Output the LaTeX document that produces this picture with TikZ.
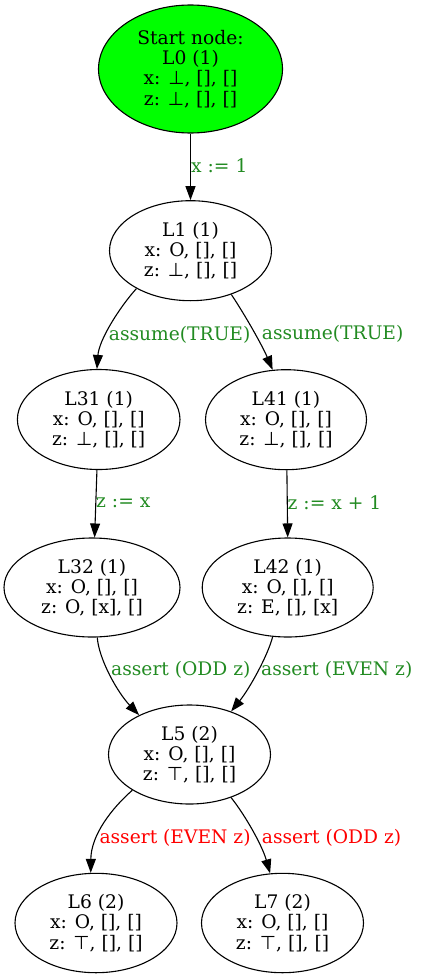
\documentclass[tikz,border=0pt]{standalone}
\usepackage{fontspec}
\setmainfont{DejaVu Serif}
\newfontfamily\symf{DejaVu Sans}
\usetikzlibrary{arrows.meta,shapes.geometric}
\definecolor{lblgreen}{HTML}{228B22}
\definecolor{startgreen}{HTML}{00FF00}
\newcommand\mybot{{\symf ⊥}}
\newcommand\mytop{{\symf ⊤}}
\begin{document}
\begin{tikzpicture}[x=1pt,y=-1pt,
  state/.style={draw=black, line width=1.1pt, ellipse, inner sep=0pt, align=center, font=\fontsize{18.67}{20.3}\selectfont},
  edge/.style={draw=black, line width=1.1pt, -{Triangle[length=14pt,width=10pt]}},
  elabel/.style={anchor=west, inner sep=0pt, font=\fontsize{18.67}{20.3}\selectfont},
  ok/.style={text=lblgreen}, bad/.style={text=red}]
\useasboundingbox (0,0) rectangle (421,979);

\node[state, fill=startgreen, minimum width=184pt, minimum height=128pt] (L0) at (190.5,69) {Start node:\\L0 (1)\\x: \mybot, [], []\\z: \mybot, [], []};
\node[state, minimum width=162pt, minimum height=100pt] (L1) at (190.5,250.7) {L1 (1)\\x: O, [], []\\z: \mybot, [], []};
\node[state, minimum width=162.6pt, minimum height=100pt] (L31) at (98.7,419.5) {L31 (1)\\x: O, [], []\\z: \mybot, [], []};
\node[state, minimum width=161pt, minimum height=100pt] (L41) at (286,419.7) {L41 (1)\\x: O, [], []\\z: \mybot, [], []};
\node[state, minimum width=176pt, minimum height=99pt] (L32) at (92,587.5) {L32 (1)\\x: O, [], []\\z: O, [x], []};
\node[state, minimum width=171pt, minimum height=99pt] (L42) at (287.7,587.5) {L42 (1)\\x: O, [], []\\z: E, [], [x]};
\node[state, minimum width=162pt, minimum height=99pt] (L5) at (189.5,754.5) {L5 (2)\\x: O, [], []\\z: \mytop, [], []};
\node[state, minimum width=162pt, minimum height=99.4pt] (L6) at (96,923) {L6 (2)\\x: O, [], []\\z: \mytop, [], []};
\node[state, minimum width=162pt, minimum height=99.4pt] (L7) at (282.5,923) {L7 (2)\\x: O, [], []\\z: \mytop, [], []};

\draw[edge] (L0.south) -- (L1.north);
\draw[edge] (L1.215) .. controls (119,308) and (99,340) .. (L31.92);
\draw[edge] (L1.-47.6) .. controls (245,315) and (262,345) .. (L41.105.6);
\draw[edge] (L31.-92.3) -- (L32.87.3);
\draw[edge] (L41.-89) -- (L42.north);
\draw[edge] (L32.-84.5) .. controls (99,660) and (118,693) .. (L5.142.5);
\draw[edge] (L42.253) .. controls (268,655) and (250,688) .. (L5.46.6);
\draw[edge] (L5.212) .. controls (112,808) and (91,835) .. (L6.96.9);
\draw[edge] (L5.-46) .. controls (245,815) and (262,845) .. (L7.104);

\node[elabel, ok] (t1) at (191,166) {x := 1};
\node[elabel, ok] (t2) at (108.7,335) {assume(TRUE)};
\node[elabel, ok] (t3) at (261.7,334) {assume(TRUE)};
\node[elabel, ok] (t4) at (96,503) {z := x};
\node[elabel, ok] (t5) at (287.5,503) {z := x + 1};
\node[elabel, ok] (t6) at (111,670) {assert (ODD z)};
\node[elabel, ok] (t7) at (261,670) {assert (EVEN z)};
\node[elabel, bad] (t8) at (99.3,838) {assert (EVEN z)};
\node[elabel, bad] (t9) at (261.7,838) {assert (ODD z)};
\end{tikzpicture}
\end{document}
